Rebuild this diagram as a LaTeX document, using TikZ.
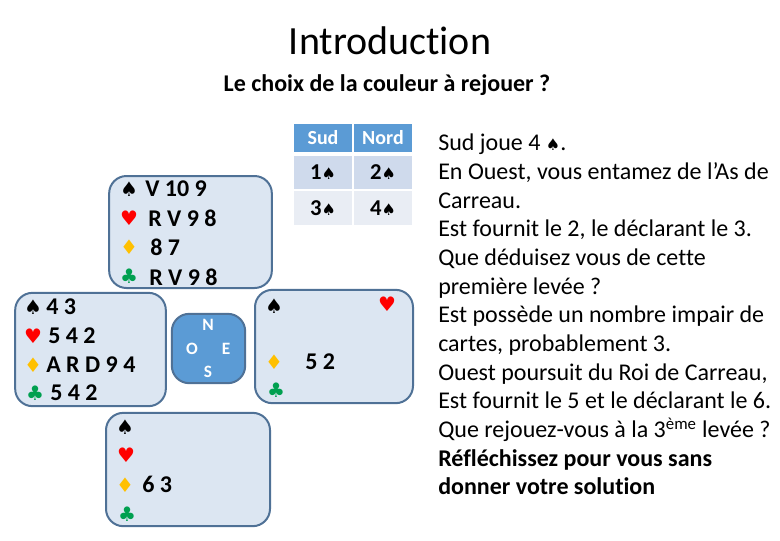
\documentclass[tikz,border=0pt]{standalone}
\usepackage{fontspec}
\setmainfont[Ligatures=NoCommon]{Carlito}
\newfontfamily\suitfont{DejaVu Sans}
\usetikzlibrary{positioning}

\definecolor{boxfill}{HTML}{DCE6F2}
\definecolor{boxline}{HTML}{4F7196}
\definecolor{headfill}{HTML}{5B9BD5}
\definecolor{rowa}{HTML}{CFDAEC}
\definecolor{rowb}{HTML}{E9EDF4}
\definecolor{cardorange}{HTML}{FFC000}
\definecolor{cardgreen}{HTML}{00A050}

\newcommand{\pique}{{\suitfont\char"2660}}
\newcommand{\coeur}{{\suitfont\char"2665}}
\newcommand{\carreau}{{\suitfont\char"2666}}
\newcommand{\trefle}{{\suitfont\char"2663}}
\newcommand{\petitpique}{{\fontsize{12}{12}\selectfont\pique}}

\begin{document}
\begin{tikzpicture}[
    x=0.75pt, y=-0.75pt,
    handbox/.style={
      draw=boxline,
      fill=boxfill,
      line width=1.5pt,
      rounded corners=13pt,
      inner sep=0pt
    },
    suit/.style={inner sep=0pt, font=\fontsize{15}{15}\selectfont},
    rank/.style={inner sep=0pt, anchor=west, font=\fontsize{18}{18}\selectfont\bfseries},
    compass/.style={inner sep=0pt, text=white, font=\fontsize{13}{13}\selectfont\bfseries},
    cell/.style={inner sep=0pt, minimum width=43.5pt, font=\fontsize{17}{17}\selectfont\bfseries}
  ]
    \useasboundingbox (0,0) rectangle (780,540);

    \node (title) [inner sep=0pt, font=\fontsize{30}{30}\selectfont] at (390,41) {Introduction};
    \node (subtitle) [inner sep=0pt, font=\fontsize{18}{18}\selectfont\bfseries] at (387,85) {Le choix de la couleur à rejouer ?};

    % table
    \foreach \n/\x/\t in {sud/323/Sud, nord/383/Nord} {
      \node (\n) [cell, fill=headfill, text=white, minimum height=21pt, font=\fontsize{15}{15}\selectfont\bfseries] at (\x,138) {\t};
    }
    \node (sudun) [cell, fill=rowa, minimum height=25pt] at (323,172.5) {1\petitpique};
    \node (nordun) [cell, fill=rowa, minimum height=25pt] at (383,172.5) {2\petitpique};
    \node (suddeux) [cell, fill=rowb, minimum height=25.5pt] at (323,208) {3\petitpique};
    \node (norddeux) [cell, fill=rowb, minimum height=25.5pt] at (383,208) {4\petitpique};

    % hands
    \node (north) [handbox, minimum width=122pt, minimum height=84pt] at (190.5,232) {};
    \node (west) [handbox, minimum width=113pt, minimum height=85pt] at (90.5,349.5) {};
    \node (east) [handbox, minimum width=118.5pt, minimum height=85pt] at (334,346.5) {};
    \node (south) [handbox, minimum width=123pt, minimum height=85pt] at (188,469.5) {};
    \node (table) [handbox, draw=boxline, fill=headfill, minimum width=55pt, minimum height=52pt] at (208.5,348.5) {};

    \node (tn) [compass] at (208,325) {N};
    \node (to) [compass] at (192,349) {O};
    \node (te) [compass] at (226,349) {E};
    \node (ts) [compass] at (208,372) {S};

    % north hand
    \node (ns) [suit] at (129,189) {\pique};
    \node (nh) [suit, text=red] at (129,218) {\coeur};
    \node (nd) [suit, text=cardorange] at (129,247) {\carreau};
    \node (nc) [suit, text=cardgreen] at (129,276) {\trefle};
    \node (nsr) [rank] at (145,189) {V 10 9};
    \node (nhr) [rank] at (148,218) {R V 9 8};
    \node (ndr) [rank] at (150,247) {8 7};
    \node (ncr) [rank] at (149,277) {R V 9 8};

    % west hand
    \node (ws) [suit] at (33,307) {\pique};
    \node (wh) [suit, text=red] at (33,336) {\coeur};
    \node (wd) [suit, text=cardorange] at (33,365) {\carreau};
    \node (wc) [suit, text=cardgreen] at (35,393) {\trefle};
    \node (wsr) [rank] at (46,307) {4 3};
    \node (whr) [rank] at (48,336) {5 4 2};
    \node (wdr) [rank] at (46,365) {A R D 9 4};
    \node (wcr) [rank] at (50,393) {5 4 2};

    % east hand
    \node (es) [suit] at (274,306) {\pique};
    \node (eh) [suit, text=red] at (387,304) {\coeur};
    \node (ed) [suit, text=cardorange] at (274,362) {\carreau};
    \node (ec) [suit, text=cardgreen] at (276,390) {\trefle};
    \node (edr) [rank] at (305,362) {5 2};

    % south hand
    \node (ss) [suit] at (125,427) {\pique};
    \node (sh) [suit, text=red] at (126,455) {\coeur};
    \node (sd) [suit, text=cardorange] at (125,485) {\carreau};
    \node (sc) [suit, text=cardgreen] at (127,514) {\trefle};
    \node (sdr) [rank] at (142,484) {6 3};

    \node (story) [inner sep=0pt, anchor=north west, align=left, font=\fontsize{18}{21.5}\selectfont] at (438,134) {%
      Sud joue 4 \petitpique.\\
      En Ouest, vous entamez de l’As de\\
      Carreau.\\
      Est fournit le 2, le déclarant le 3.\\
      Que déduisez vous de cette\\
      première levée ?\\
      Est possède un nombre impair de\\
      cartes, probablement 3.\\
      Ouest poursuit du Roi de Carreau,\\
      Est fournit le 5 et le déclarant le 6.\\
      Que rejouez-vous à la 3\textsuperscript{ème} levée ?\\
      \textbf{Réfléchissez pour vous sans}\\
      \textbf{donner votre solution}};
  \end{tikzpicture}
\end{document}
